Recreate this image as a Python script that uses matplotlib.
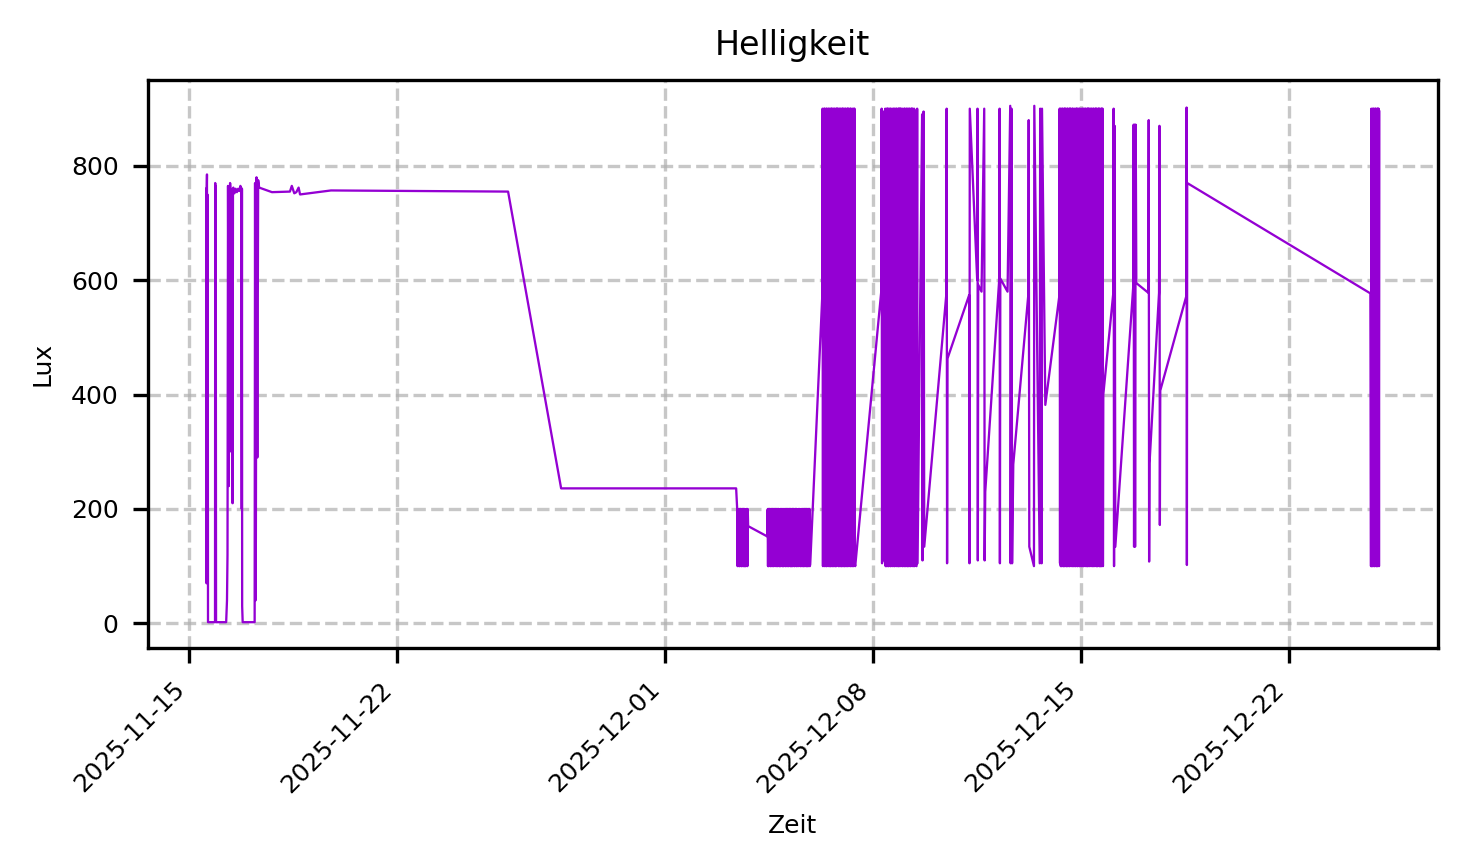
import matplotlib
matplotlib.use("Agg")
import matplotlib.pyplot as plt
import matplotlib.dates as mdates
import pandas as pd

plt.rcParams["path.simplify"] = False

# ---- sparse readings (time, lux) ----
early_times = [
    "2025-11-15 14:00", "2025-11-15 14:10", "2025-11-15 14:20", "2025-11-15 14:30",
    "2025-11-15 14:40", "2025-11-15 14:50", "2025-11-15 15:05", "2025-11-15 15:20",
    "2025-11-15 21:00", "2025-11-15 21:10", "2025-11-15 21:25", "2025-11-15 21:35",
    "2025-11-15 21:50", "2025-11-16 06:00", "2025-11-16 06:40", "2025-11-16 07:05",
    "2025-11-16 07:30", "2025-11-16 08:10", "2025-11-16 08:30", "2025-11-16 08:50",
    "2025-11-16 09:10", "2025-11-16 09:40", "2025-11-16 10:30", "2025-11-16 11:10",
    "2025-11-16 11:30", "2025-11-16 11:50", "2025-11-16 12:40", "2025-11-16 13:40",
    "2025-11-16 14:40", "2025-11-16 15:40", "2025-11-16 16:40", "2025-11-16 17:30",
    "2025-11-16 18:20", "2025-11-16 18:35", "2025-11-16 18:45", "2025-11-16 18:55",
    "2025-11-16 19:20", "2025-11-17 05:00", "2025-11-17 05:20", "2025-11-17 05:40",
    "2025-11-17 06:00", "2025-11-17 06:30", "2025-11-17 07:10", "2025-11-17 07:50",
    "2025-11-17 08:40", "2025-11-17 19:00", "2025-11-18 09:30", "2025-11-18 11:00",
    "2025-11-18 13:00", "2025-11-18 14:40", "2025-11-18 16:30", "2025-11-18 17:40",
    "2025-11-19 18:40", "2025-11-25 17:40", "2025-11-27 12:30", "2025-12-03 09:50",
]
early_lux = [
    760, 70, 760, 785,
    90, 750, 740, 2,
    2, 770, 10, 765,
    2, 2, 40, 120,
    765, 240, 760, 300,
    770, 750, 758, 210,
    760, 762, 752, 760,
    754, 760, 756, 765,
    760, 200, 760, 30,
    2, 2, 770, 40,
    150, 780, 290, 775,
    762, 754, 755, 765,
    752, 754, 762, 750,
    757, 755, 236, 236,
]

mid_times = ["2025-12-08 07:00", "2025-12-08 07:20", "2025-12-08 07:40",
             "2025-12-08 08:40", "2025-12-08 09:00"]
mid_lux = [580, 900, 105, 895, 110]

late_times = [
    "2025-12-09 11:30", "2025-12-09 12:00", "2025-12-09 12:20", "2025-12-09 16:00",
    "2025-12-09 16:20", "2025-12-09 17:10", "2025-12-09 17:44", "2025-12-10 11:30",
    "2025-12-10 11:50", "2025-12-10 12:10", "2025-12-10 12:30", "2025-12-11 06:00",
    "2025-12-11 06:15", "2025-12-11 06:30", "2025-12-11 12:30", "2025-12-11 12:45",
    "2025-12-11 13:00", "2025-12-11 13:20", "2025-12-11 16:00", "2025-12-11 18:10",
    "2025-12-11 18:30", "2025-12-11 19:00", "2025-12-12 06:20", "2025-12-12 06:35",
    "2025-12-12 06:50", "2025-12-12 07:10", "2025-12-12 13:00", "2025-12-12 15:10",
    "2025-12-12 15:30", "2025-12-12 16:10", "2025-12-12 16:40", "2025-12-12 17:38",
    "2025-12-13 05:45", "2025-12-13 06:05", "2025-12-13 06:34", "2025-12-13 10:20",
    "2025-12-13 10:36", "2025-12-13 15:00", "2025-12-13 15:20", "2025-12-13 16:30",
    "2025-12-13 16:50", "2025-12-13 19:30",
]
late_lux = [
    100, 900, 105, 890,
    110, 895, 134, 574,
    900, 105, 463, 574,
    105, 900, 600, 900,
    110, 592, 580, 900,
    110, 230, 603, 900,
    105, 603, 580, 905,
    105, 900, 105, 278,
    574, 880, 134, 100,
    905, 105, 900, 105,
    900, 382,
]

tail_times = [
    "2025-12-16 02:25", "2025-12-16 02:40", "2025-12-16 03:00", "2025-12-16 03:30",
    "2025-12-16 04:02", "2025-12-16 18:34", "2025-12-16 18:50", "2025-12-16 19:10",
    "2025-12-16 19:40", "2025-12-16 20:00", "2025-12-16 20:30", "2025-12-16 21:00",
    "2025-12-17 06:41", "2025-12-17 07:00", "2025-12-17 07:20", "2025-12-17 07:40",
    "2025-12-17 15:20", "2025-12-17 15:40", "2025-12-17 16:00", "2025-12-17 16:20",
    "2025-12-18 13:20", "2025-12-18 13:35", "2025-12-18 13:50", "2025-12-18 14:05",
    "2025-12-24 18:00",
]
tail_lux = [
    578, 900, 100, 870,
    134, 591, 872, 134,
    872, 134, 872, 595,
    578, 880, 108, 280,
    578, 870, 172, 407,
    572, 902, 102, 770,
    577,
]

# ---- dense logging bursts: (start, end) and the readings in between ----
burst_b1_span = ("2025-12-03 10:40", "2025-12-03 19:30")
burst_b1_lux = [
    200, 100, 200, 102, 198, 100, 200, 100, 200, 103, 200, 100, 199, 100, 200, 101, 200, 100, 200, 100,
    200, 100, 199, 100, 200, 102, 200, 100, 200, 170,
]

burst_b2_span = ("2025-12-04 10:55", "2025-12-05 21:39")
burst_b2_lux = [
    152,
    199, 100, 200, 100, 200, 102, 200, 100, 197, 100, 200, 103, 200, 100, 200, 100, 198, 101, 200, 100,
    200, 101, 200, 100, 199, 100, 200, 102, 200, 100, 198, 100, 200, 100, 200, 103, 200, 100, 200, 100,
    200, 100, 200, 102, 198, 100, 200, 100, 200, 103, 200, 100, 199, 100, 200, 101, 200, 100, 200, 100,
    199, 100, 200, 100, 200, 102, 200, 100, 197, 100, 200, 103, 200, 100, 200, 100, 198, 101, 200, 100,
    200, 101, 200, 100, 199, 100, 200, 102, 200, 100, 198, 100, 200, 100, 200, 103, 200, 100, 200, 100,
    200, 100, 198, 100, 200, 102, 200, 100, 103,
]

burst_a_span = ("2025-12-06 07:20", "2025-12-07 10:00")
burst_a_lux = [
    570,
    900, 100, 898, 102, 900, 100, 900, 104, 896, 100, 900, 100, 900, 101, 899, 100, 900, 103, 900, 100,
    897, 100, 900, 100, 900, 102, 900, 100, 895, 100, 900, 104, 900, 100, 898, 100, 900, 100, 900, 102,
    900, 105, 900, 100, 899, 100, 900, 102, 900, 100, 896, 100, 900, 100, 900, 103, 900, 100, 897, 100,
    900, 100, 900, 102, 898, 100, 900, 100, 900, 104, 900, 100, 895, 101, 900, 100, 900, 100, 899, 102,
    900, 100, 898, 100, 900, 102, 900, 104, 100,
]

burst_c_span = ("2025-12-08 10:14", "2025-12-09 10:27")
burst_c_lux = [
    900, 100, 896, 100, 900, 103, 900, 100, 900, 100, 898, 102, 900, 100, 900, 100, 897, 104, 900, 100,
    899, 101, 900, 100, 900, 100, 895, 102, 900, 100, 900, 103, 898, 100, 900, 100, 900, 100, 900, 101,
    900, 100, 900, 104, 897, 100, 900, 100, 899, 102, 900, 100, 900, 100, 896, 103, 900, 100, 900, 100,
    898, 100, 900, 101, 900, 100, 895, 100, 900, 102, 900, 100, 900, 104, 899, 100, 900, 100, 897, 102,
]

burst_d_span = ("2025-12-14 06:47", "2025-12-15 18:20")
burst_d_lux = [
    572,
    900, 105, 900, 100, 899, 100, 900, 102, 900, 100, 896, 100, 900, 100, 900, 103, 900, 100, 897, 100,
    900, 100, 900, 102, 898, 100, 900, 100, 900, 104, 900, 100, 895, 101, 900, 100, 900, 100, 899, 102,
    900, 100, 896, 100, 900, 103, 900, 100, 900, 100, 898, 102, 900, 100, 900, 100, 897, 104, 900, 100,
    899, 101, 900, 100, 900, 100, 895, 102, 900, 100, 900, 103, 898, 100, 900, 100, 900, 100, 900, 101,
    900, 100, 898, 102, 900, 100, 900, 104, 896, 100, 900, 100, 900, 101, 899, 100, 900, 103, 900, 100,
    900, 100, 898, 100, 900, 102, 900, 100, 900, 100, 897, 100, 900, 100, 900, 101, 900, 100, 400,
]

burst_e_span = ("2025-12-24 18:30", "2025-12-25 01:15")
burst_e_lux = [
    100, 900, 100, 897, 100, 900, 102, 900, 100, 895, 100, 900,
    104, 900, 100, 898, 100, 900, 100, 900, 102, 900, 100, 895,
]

# ---- assemble ----
frames = [
    pd.DataFrame({"t": pd.to_datetime(early_times), "lux": early_lux}),
    pd.DataFrame({"t": pd.to_datetime(mid_times), "lux": mid_lux}),
    pd.DataFrame({"t": pd.to_datetime(late_times), "lux": late_lux}),
    pd.DataFrame({"t": pd.to_datetime(tail_times), "lux": tail_lux}),
]
for span, vals in [(burst_b1_span, burst_b1_lux), (burst_b2_span, burst_b2_lux),
                   (burst_a_span, burst_a_lux), (burst_c_span, burst_c_lux),
                   (burst_d_span, burst_d_lux), (burst_e_span, burst_e_lux)]:
    times = pd.date_range(span[0], span[1], periods=len(vals))
    frames.append(pd.DataFrame({"t": times, "lux": vals}))
df = pd.concat(frames).sort_values("t").reset_index(drop=True)

# ---- plot ----
fig = plt.figure(figsize=(4.89, 2.89), dpi=300)
ax = fig.add_axes([147.7 / 1467, 1 - 648 / 867, (1438 - 147.7) / 1467, (648 - 80) / 867])
ax.plot(df["t"], df["lux"], color="darkviolet", linewidth=0.55)

ax.set_title("Helligkeit", fontsize=8)
ax.set_xlabel("Zeit", fontsize=6)
ax.set_ylabel("Lux", fontsize=6)
ax.tick_params(axis="both", labelsize=6)
ax.grid(True, linestyle="--", alpha=0.7)
ax.xaxis.set_major_formatter(mdates.DateFormatter("%Y-%m-%d"))
plt.setp(ax.get_xticklabels(), rotation=45, ha="right")

fig.savefig("out.png", dpi=300)
